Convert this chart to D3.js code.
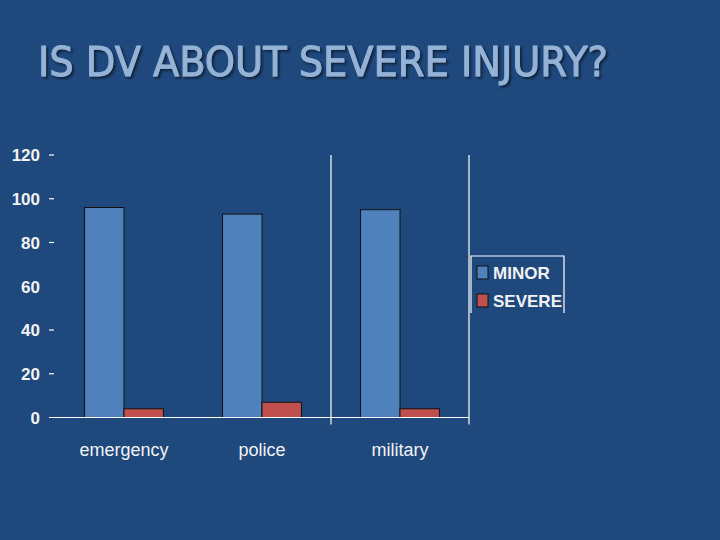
<!DOCTYPE html>
<html><head><meta charset="utf-8">
<script src="https://cdn.jsdelivr.net/npm/d3@7"></script>
<style>html,body{margin:0;padding:0;background:#1f497d;}svg{display:block;}</style>
</head><body>
<script>
const categories = ["emergency", "police", "military"];
const seriesNames = ["MINOR", "SEVERE"];
const minorValues = [96, 93, 95];
const severeValues = [4, 7, 4];
const yTicks = [0, 20, 40, 60, 80, 100, 120];
const yTicksWithDash = [20, 40, 80, 100, 120];
const dividerCategories = ["military"]; // vertical rule at left edge of these bands
const title = "IS DV ABOUT SEVERE INJURY?";

const W = 720, H = 540;
const colors = {MINOR: "#4f81bd", SEVERE: "#c0504d"};
const svg = d3.select("body").append("svg").attr("width", W).attr("height", H);
svg.append("rect").attr("width", W).attr("height", H).attr("fill", "#1f497d");

const defs = svg.append("defs");
const f = defs.append("filter").attr("id", "sh").attr("x", "-5%").attr("y", "-20%").attr("width", "110%").attr("height", "140%");
f.append("feDropShadow").attr("dx", 2).attr("dy", 2).attr("stdDeviation", 0.8)
  .attr("flood-color", "#0b1d36").attr("flood-opacity", 0.9);

// Title with shadow
svg.append("text").attr("x", 38).attr("y", 76).text(title)
  .attr("font-family", "DejaVu Sans Condensed, DejaVu Sans").attr("font-size", 41)
  .attr("fill", "#95b3d7").attr("stroke", "#95b3d7").attr("stroke-width", 0.9)
  .attr("textLength", 570).attr("lengthAdjust", "spacingAndGlyphs")
  .attr("filter", "url(#sh)");

const x0 = d3.scaleBand().domain(categories).range([55, 469]).paddingInner(0).paddingOuter(0);
const x1 = d3.scaleBand().domain(seriesNames).range([0, x0.bandwidth()]).paddingInner(0).paddingOuter(0.75);
const y = d3.scaleLinear().domain([0, 120]).range([417.5, 155]);

const data = categories.map((c, i) => ({cat: c, vals: [
  {key: "MINOR", v: minorValues[i]}, {key: "SEVERE", v: severeValues[i]}]}));

const g = svg.append("g");
g.selectAll("g.grp").data(data).join("g").attr("class", "grp")
  .attr("transform", d => `translate(${x0(d.cat)},0)`)
  .selectAll("rect").data(d => d.vals).join("rect")
  .attr("x", d => x1(d.key)).attr("width", x1.bandwidth())
  .attr("y", d => y(d.v)).attr("height", d => y(0) - y(d.v))
  .attr("fill", d => colors[d.key])
  .attr("stroke", "#111").attr("stroke-width", 1);

// baseline
svg.append("line").attr("x1", 49).attr("x2", x0.range()[1]).attr("y1", y(0)).attr("y2", y(0))
  .attr("stroke", "#fff").attr("stroke-width", 1.2);
// vertical rules
const vx = dividerCategories.map(c => x0(c)).concat([x0.range()[1]]);
svg.selectAll("line.vr").data(vx).join("line").attr("class", "vr")
  .attr("x1", d => d).attr("x2", d => d).attr("y1", y(120)).attr("y2", y(0) + 7)
  .attr("stroke", "#fff").attr("stroke-width", 1.2);

// y axis labels
const yAxis = d3.axisLeft(y).tickValues(yTicks).tickSize(0).tickPadding(0);
const ya = svg.append("g").attr("transform", "translate(40,0)").call(yAxis);
ya.select(".domain").remove();
ya.selectAll("text").attr("fill", "#f2f2f2").attr("font-family", "Liberation Sans, Arial")
  .attr("font-size", 17).attr("font-weight", "bold").attr("dy", "0.35em");
svg.selectAll("line.yd").data(yTicksWithDash).join("line").attr("class", "yd")
  .attr("x1", 49).attr("x2", 54).attr("y1", d => y(d)).attr("y2", d => y(d))
  .attr("stroke", "#fff").attr("stroke-width", 1.2);

// x axis labels
const xAxis = d3.axisBottom(x0).tickSize(0).tickPadding(0);
const xa = svg.append("g").attr("transform", `translate(0,${y(0) + 38})`).call(xAxis);
xa.select(".domain").remove();
xa.selectAll("text").attr("fill", "#f2f2f2").attr("font-family", "Liberation Sans, Arial")
  .attr("font-size", 18).attr("dy", "0").attr("y", 0);

// legend
const lg = svg.append("g");
lg.append("path").attr("d", "M471,313 V256 H564 V313").attr("fill", "none")
  .attr("stroke", "#fff").attr("stroke-width", 1.2);
const li = lg.selectAll("g.li").data(seriesNames).join("g").attr("class", "li")
  .attr("transform", (d, i) => `translate(477,${266 + i * 28})`);
li.append("rect").attr("width", 11).attr("height", 13).attr("fill", d => colors[d])
  .attr("stroke", "#111").attr("stroke-width", 1);
li.append("text").attr("x", 16).attr("y", 13).text(d => d).attr("fill", "#f2f2f2")
  .attr("font-family", "Liberation Sans, Arial").attr("font-size", 17).attr("font-weight", "bold");
</script>
</body></html>
